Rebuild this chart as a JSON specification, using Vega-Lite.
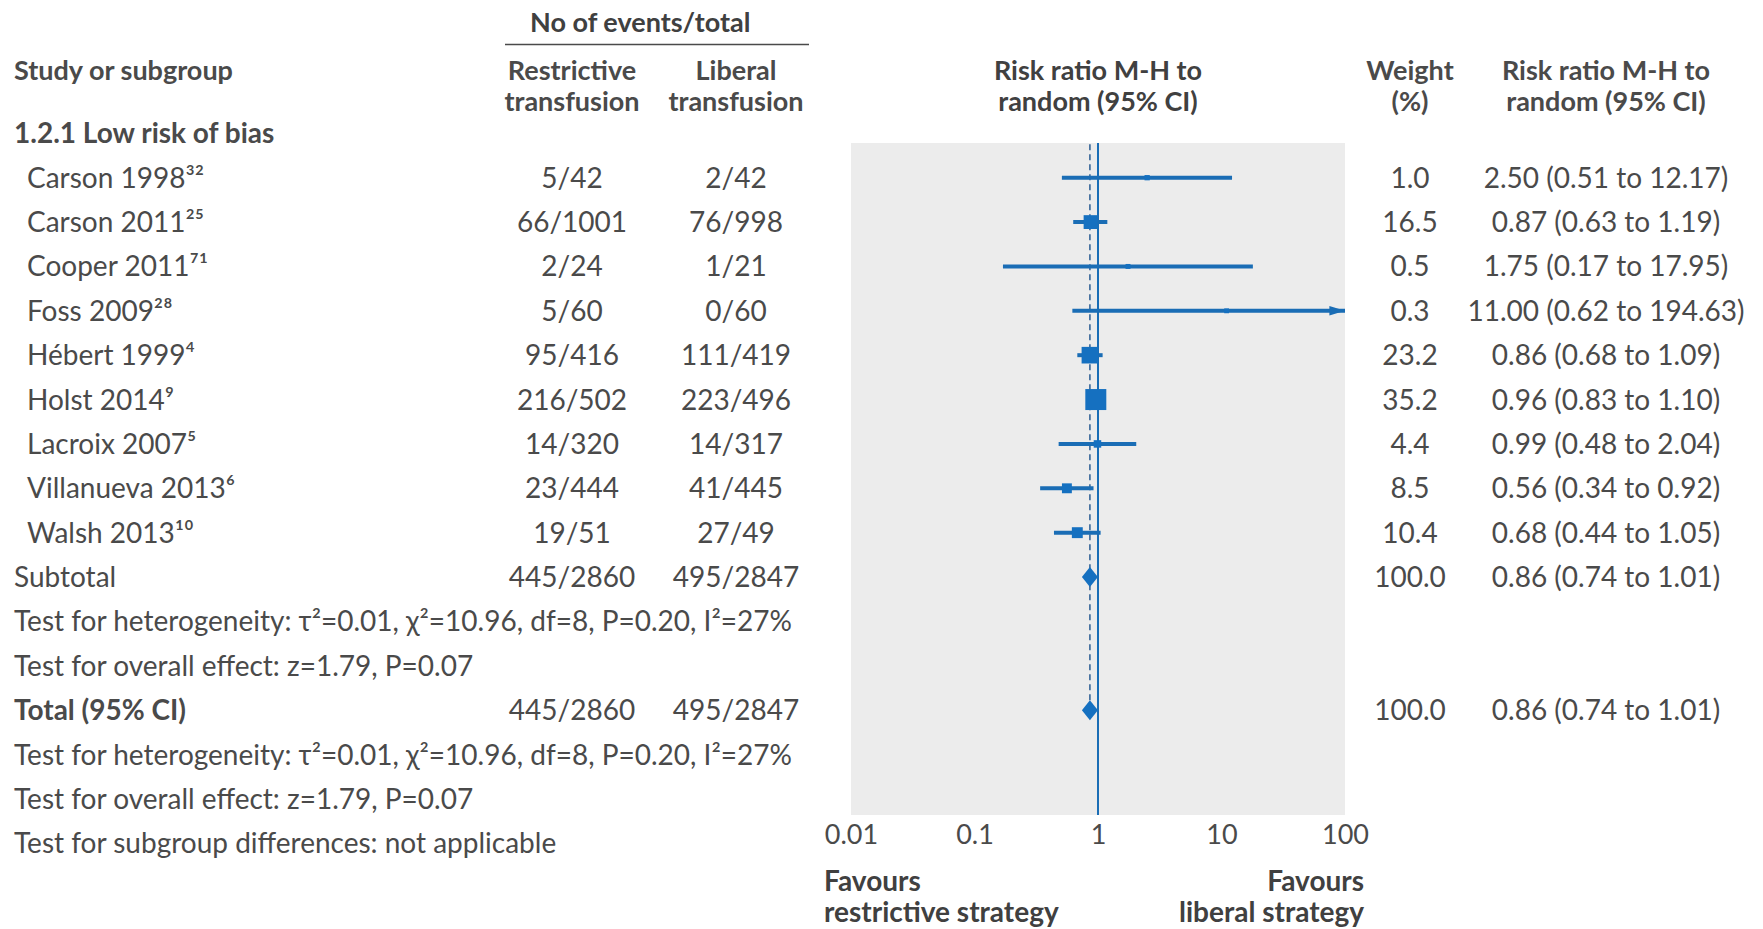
{
  "$schema": "https://vega.github.io/schema/vega-lite/v6.json",
  "usermeta": {"embedOptions": {"actions": false}},
  "width": 494,
  "height": 672,
  "autosize": {"type": "none"},
  "padding": {"left": 851, "top": 143, "right": 418, "bottom": 114},
  "background": "#ffffff",
  "config": {
    "font": "Lato",
    "view": {"fill": "#ececec", "stroke": null},
    "text": {"font": "Lato", "fontSize": 28, "color": "#4a4a4a"}
  },
  "datasets": {
    "rows": [
      {"row": -1, "kind": "header", "label": "Study or subgroup", "restr": "Restrictive\ntransfusion", "lib": "Liberal\ntransfusion", "plot": "Risk ratio M-H to\nrandom (95% CI)", "wt": "Weight\n(%)", "ci": "Risk ratio M-H to\nrandom (95% CI)"},
      {"row": 0, "kind": "group", "label": "1.2.1 Low risk of bias"},
      {"row": 1, "kind": "study", "label": "Carson 1998³²", "restr": "5/42", "lib": "2/42", "wt": "1.0", "w": 1.0, "ci": "2.50 (0.51 to 12.17)", "est": 2.50, "lo": 0.51, "hi": 12.17},
      {"row": 2, "kind": "study", "label": "Carson 2011²⁵", "restr": "66/1001", "lib": "76/998", "wt": "16.5", "w": 16.5, "ci": "0.87 (0.63 to 1.19)", "est": 0.87, "lo": 0.63, "hi": 1.19},
      {"row": 3, "kind": "study", "label": "Cooper 2011⁷¹", "restr": "2/24", "lib": "1/21", "wt": "0.5", "w": 0.5, "ci": "1.75 (0.17 to 17.95)", "est": 1.75, "lo": 0.17, "hi": 17.95},
      {"row": 4, "kind": "study", "label": "Foss 2009²⁸", "restr": "5/60", "lib": "0/60", "wt": "0.3", "w": 0.3, "ci": "11.00 (0.62 to 194.63)", "est": 11.00, "lo": 0.62, "hi": 194.63},
      {"row": 5, "kind": "study", "label": "Hébert 1999⁴", "restr": "95/416", "lib": "111/419", "wt": "23.2", "w": 23.2, "ci": "0.86 (0.68 to 1.09)", "est": 0.86, "lo": 0.68, "hi": 1.09},
      {"row": 6, "kind": "study", "label": "Holst 2014⁹", "restr": "216/502", "lib": "223/496", "wt": "35.2", "w": 35.2, "ci": "0.96 (0.83 to 1.10)", "est": 0.96, "lo": 0.83, "hi": 1.10},
      {"row": 7, "kind": "study", "label": "Lacroix 2007⁵", "restr": "14/320", "lib": "14/317", "wt": "4.4", "w": 4.4, "ci": "0.99 (0.48 to 2.04)", "est": 0.99, "lo": 0.48, "hi": 2.04},
      {"row": 8, "kind": "study", "label": "Villanueva 2013⁶", "restr": "23/444", "lib": "41/445", "wt": "8.5", "w": 8.5, "ci": "0.56 (0.34 to 0.92)", "est": 0.56, "lo": 0.34, "hi": 0.92},
      {"row": 9, "kind": "study", "label": "Walsh 2013¹⁰", "restr": "19/51", "lib": "27/49", "wt": "10.4", "w": 10.4, "ci": "0.68 (0.44 to 1.05)", "est": 0.68, "lo": 0.44, "hi": 1.05},
      {"row": 10, "kind": "subtotal", "label": "Subtotal", "restr": "445/2860", "lib": "495/2847", "wt": "100.0", "w": 100.0, "ci": "0.86 (0.74 to 1.01)", "est": 0.86, "lo": 0.74, "hi": 1.01},
      {"row": 11, "kind": "note", "label": "Test for heterogeneity: τ²=0.01, χ²=10.96, df=8, P=0.20, I²=27%"},
      {"row": 12, "kind": "note", "label": "Test for overall effect: z=1.79, P=0.07"},
      {"row": 13, "kind": "total", "label": "Total (95% CI)", "restr": "445/2860", "lib": "495/2847", "wt": "100.0", "w": 100.0, "ci": "0.86 (0.74 to 1.01)", "est": 0.86, "lo": 0.74, "hi": 1.01},
      {"row": 14, "kind": "note", "label": "Test for heterogeneity: τ²=0.01, χ²=10.96, df=8, P=0.20, I²=27%"},
      {"row": 15, "kind": "note", "label": "Test for overall effect: z=1.79, P=0.07"},
      {"row": 16, "kind": "note", "label": "Test for subgroup differences: not applicable"}
    ],
    "span": [
      {"row": -2, "label": "No of events/total", "first": "Restrictive", "last": "Liberal"}
    ],
    "favours": [
      {"row": 17, "side": "restrictive", "text": "Favours\nrestrictive strategy", "end": 0.01},
      {"row": 17, "side": "liberal", "text": "Favours\nliberal strategy", "end": 100}
    ]
  },
  "data": {"name": "rows"},
  "resolve": {"scale": {"x": "independent"}, "axis": {"x": "independent"}},
  "layer": [
    {
      "mark": {"type": "rule", "color": "#1a6db5", "strokeWidth": 2},
      "encoding": {
        "x": {"datum": 1, "type": "quantitative", "scale": {"type": "log", "domain": [0.01, 100], "clamp": true, "nice": false}, "axis": null}
      }
    },
    {
      "transform": [{"filter": "datum.kind === 'total'"}],
      "mark": {"type": "rule", "color": "#2b5d93", "strokeWidth": 1.5, "strokeDash": [6, 4], "clip": true},
      "encoding": {
        "x": {"field": "est", "type": "quantitative", "scale": {"type": "log", "domain": [0.01, 100], "clamp": true, "nice": false}, "axis": null},
        "y": {"field": "row", "type": "quantitative", "axis": null, "scale": {"domain": [0.218, 15.363], "reverse": true, "nice": false, "zero": false}},
        "y2": {"datum": 0}
      }
    },
    {
      "transform": [{"filter": "datum.kind === 'study'"}],
      "mark": {"type": "rule", "color": "#1a6db5", "strokeWidth": 4},
      "encoding": {
        "x": {
          "field": "lo", "type": "quantitative",
          "scale": {"type": "log", "domain": [0.01, 100], "clamp": true, "nice": false},
          "axis": {
            "orient": "bottom", "values": [0.01, 0.1, 1, 10, 100], "format": "~g", "title": null,
            "domain": false, "ticks": false, "tickSize": 0, "grid": false, "labelFlush": false, "labelOverlap": false,
            "labelFont": "Lato", "labelFontSize": 27, "labelColor": "#4a4a4a", "labelPadding": 7
          }
        },
        "x2": {"field": "hi"},
        "y": {"field": "row", "type": "quantitative", "axis": null, "scale": {"domain": [0.218, 15.363], "reverse": true, "nice": false, "zero": false}}
      }
    },
    {
      "transform": [{"filter": "datum.kind === 'study'"}],
      "mark": {"type": "square", "color": "#1570c0", "opacity": 1, "filled": true},
      "encoding": {
        "x": {"field": "est", "type": "quantitative", "scale": {"type": "log", "domain": [0.01, 100], "clamp": true, "nice": false}, "axis": null},
        "y": {"field": "row", "type": "quantitative", "axis": null, "scale": {"domain": [0.218, 15.363], "reverse": true, "nice": false, "zero": false}},
        "size": {"field": "w", "type": "quantitative", "legend": null, "scale": {"type": "pow", "exponent": 1.2, "domain": [0, 35.2], "range": [22, 441]}}
      }
    },
    {
      "transform": [{"filter": "datum.hi > 100"}],
      "mark": {"type": "point", "shape": "M0,0L-2.6,-0.8L-2.6,0.8Z", "size": 144, "filled": true, "color": "#1a6db5", "opacity": 1},
      "encoding": {
        "x": {"field": "hi", "type": "quantitative", "scale": {"type": "log", "domain": [0.01, 100], "clamp": true, "nice": false}, "axis": null},
        "y": {"field": "row", "type": "quantitative", "axis": null, "scale": {"domain": [0.218, 15.363], "reverse": true, "nice": false, "zero": false}}
      }
    },
    {
      "transform": [{"filter": "datum.kind === 'subtotal' || datum.kind === 'total'"}],
      "mark": {"type": "point", "shape": "M-1,0L0,-1.25L1,0L0,1.25Z", "size": 256, "filled": true, "color": "#1570c0", "opacity": 1},
      "encoding": {
        "x": {"field": "est", "type": "quantitative", "scale": {"type": "log", "domain": [0.01, 100], "clamp": true, "nice": false}, "axis": null},
        "y": {"field": "row", "type": "quantitative", "axis": null, "scale": {"domain": [0.218, 15.363], "reverse": true, "nice": false, "zero": false}}
      }
    },
    {
      "transform": [{"filter": "datum.kind === 'header'"}],
      "mark": {"type": "text", "align": "center", "baseline": "top", "dy": -30, "fontSize": 27, "fontWeight": "bold", "color": "#404040", "lineBreak": "\n", "lineHeight": 31},
      "encoding": {
        "x": {"datum": 1, "type": "quantitative", "scale": {"type": "log", "domain": [0.01, 100], "clamp": true, "nice": false}, "axis": null},
        "y": {"field": "row", "type": "quantitative", "axis": null, "scale": {"domain": [0.218, 15.363], "reverse": true, "nice": false, "zero": false}},
        "text": {"field": "plot"}
      }
    },
    {
      "data": {"name": "favours"},
      "transform": [{"filter": "datum.side === 'restrictive'"}],
      "mark": {"type": "text", "align": "left", "baseline": "top", "dx": -27, "dy": -19, "fontWeight": "bold", "color": "#404040", "lineBreak": "\n", "lineHeight": 31.5},
      "encoding": {
        "x": {"field": "end", "type": "quantitative", "scale": {"type": "log", "domain": [0.01, 100], "clamp": true, "nice": false}, "axis": null},
        "y": {"field": "row", "type": "quantitative", "axis": null, "scale": {"domain": [0.218, 15.363], "reverse": true, "nice": false, "zero": false}},
        "text": {"field": "text"}
      }
    },
    {
      "data": {"name": "favours"},
      "transform": [{"filter": "datum.side === 'liberal'"}],
      "mark": {"type": "text", "align": "right", "baseline": "top", "dx": 19, "dy": -19, "fontWeight": "bold", "color": "#404040", "lineBreak": "\n", "lineHeight": 31.5},
      "encoding": {
        "x": {"field": "end", "type": "quantitative", "scale": {"type": "log", "domain": [0.01, 100], "clamp": true, "nice": false}, "axis": null},
        "y": {"field": "row", "type": "quantitative", "axis": null, "scale": {"domain": [0.218, 15.363], "reverse": true, "nice": false, "zero": false}},
        "text": {"field": "text"}
      }
    },
    {
      "transform": [{"filter": "isValid(datum.label)"}],
      "mark": {
        "type": "text", "align": "left", "lineBreak": "\n", "lineHeight": 31,
        "baseline": {"expr": "datum.kind === 'header' ? 'top' : 'middle'"},
        "dy": {"expr": "datum.kind === 'header' ? -30 : 2"},
        "dx": {"expr": "datum.kind === 'study' ? 13 : 0"},
        "fontSize": {"expr": "datum.kind === 'header' ? 27 : 28"},
        "fontWeight": {"expr": "datum.kind === 'header' || datum.kind === 'group' || datum.kind === 'total' ? 'bold' : 'normal'"}
      },
      "encoding": {
        "x": {"datum": "Study", "type": "nominal", "axis": null, "scale": {"type": "point", "range": [-847, -827]}},
        "y": {"field": "row", "type": "quantitative", "axis": null, "scale": {"domain": [0.218, 15.363], "reverse": true, "nice": false, "zero": false}},
        "text": {"field": "label"}
      }
    },
    {
      "transform": [{"filter": "isValid(datum.restr)"}],
      "mark": {
        "type": "text", "align": "center", "lineBreak": "\n", "lineHeight": 31,
        "baseline": {"expr": "datum.kind === 'header' ? 'top' : 'middle'"},
        "dy": {"expr": "datum.kind === 'header' ? -30 : 2"},
        "fontSize": {"expr": "datum.kind === 'header' ? 27 : 28"},
        "fontWeight": {"expr": "datum.kind === 'header' ? 'bold' : 'normal'"}
      },
      "encoding": {
        "x": {"datum": "Restrictive", "type": "nominal", "axis": null, "scale": {"type": "point", "range": [-289, -269]}},
        "y": {"field": "row", "type": "quantitative", "axis": null, "scale": {"domain": [0.218, 15.363], "reverse": true, "nice": false, "zero": false}},
        "text": {"field": "restr"}
      }
    },
    {
      "transform": [{"filter": "isValid(datum.lib)"}],
      "mark": {
        "type": "text", "align": "center", "lineBreak": "\n", "lineHeight": 31,
        "baseline": {"expr": "datum.kind === 'header' ? 'top' : 'middle'"},
        "dy": {"expr": "datum.kind === 'header' ? -30 : 2"},
        "fontSize": {"expr": "datum.kind === 'header' ? 27 : 28"},
        "fontWeight": {"expr": "datum.kind === 'header' ? 'bold' : 'normal'"}
      },
      "encoding": {
        "x": {"datum": "Liberal", "type": "nominal", "axis": null, "scale": {"type": "point", "range": [-125, -105]}},
        "y": {"field": "row", "type": "quantitative", "axis": null, "scale": {"domain": [0.218, 15.363], "reverse": true, "nice": false, "zero": false}},
        "text": {"field": "lib"}
      }
    },
    {
      "data": {"name": "span"},
      "mark": {"type": "rule", "color": "#4a4a4a", "strokeWidth": 1.5},
      "encoding": {
        "x": {"field": "first", "type": "nominal", "axis": null, "scale": {"type": "point", "domain": ["Restrictive", "Liberal"], "range": [-346, -42], "padding": 0}},
        "x2": {"field": "last"},
        "y": {"field": "row", "type": "quantitative", "axis": null, "scale": {"domain": [0.218, 15.363], "reverse": true, "nice": false, "zero": false}}
      }
    },
    {
      "data": {"name": "span"},
      "mark": {"type": "text", "align": "left", "baseline": "middle", "dx": 25, "dy": -21, "fontSize": 27, "fontWeight": "bold", "color": "#404040"},
      "encoding": {
        "x": {"field": "first", "type": "nominal", "axis": null, "scale": {"type": "point", "domain": ["Restrictive", "Liberal"], "range": [-346, -42], "padding": 0}},
        "y": {"field": "row", "type": "quantitative", "axis": null, "scale": {"domain": [0.218, 15.363], "reverse": true, "nice": false, "zero": false}},
        "text": {"field": "label"}
      }
    },
    {
      "transform": [{"filter": "isValid(datum.wt)"}],
      "mark": {
        "type": "text", "align": "center", "lineBreak": "\n", "lineHeight": 31,
        "baseline": {"expr": "datum.kind === 'header' ? 'top' : 'middle'"},
        "dy": {"expr": "datum.kind === 'header' ? -30 : 2"},
        "fontSize": {"expr": "datum.kind === 'header' ? 27 : 28"},
        "fontWeight": {"expr": "datum.kind === 'header' ? 'bold' : 'normal'"}
      },
      "encoding": {
        "x": {"datum": "Weight", "type": "nominal", "axis": null, "scale": {"type": "point", "range": [549, 569]}},
        "y": {"field": "row", "type": "quantitative", "axis": null, "scale": {"domain": [0.218, 15.363], "reverse": true, "nice": false, "zero": false}},
        "text": {"field": "wt"}
      }
    },
    {
      "transform": [{"filter": "isValid(datum.ci)"}],
      "mark": {
        "type": "text", "align": "center", "lineBreak": "\n", "lineHeight": 31,
        "baseline": {"expr": "datum.kind === 'header' ? 'top' : 'middle'"},
        "dy": {"expr": "datum.kind === 'header' ? -30 : 2"},
        "fontSize": {"expr": "datum.kind === 'header' ? 27 : 28"},
        "fontWeight": {"expr": "datum.kind === 'header' ? 'bold' : 'normal'"}
      },
      "encoding": {
        "x": {"datum": "Risk ratio", "type": "nominal", "axis": null, "scale": {"type": "point", "range": [745, 765]}},
        "y": {"field": "row", "type": "quantitative", "axis": null, "scale": {"domain": [0.218, 15.363], "reverse": true, "nice": false, "zero": false}},
        "text": {"field": "ci"}
      }
    }
  ]
}
